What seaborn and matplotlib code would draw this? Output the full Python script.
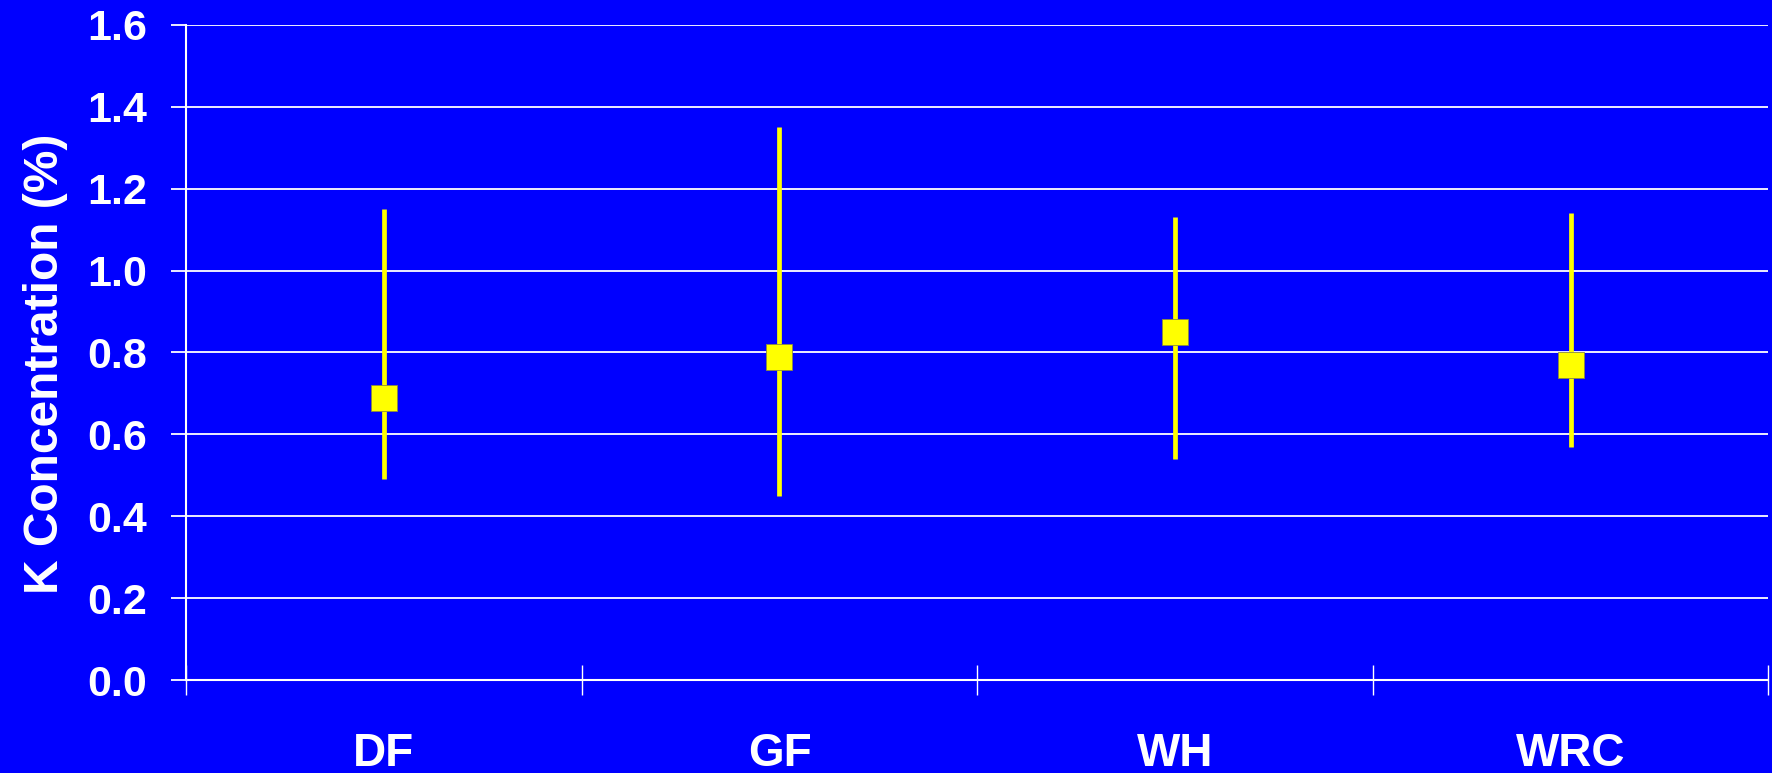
import matplotlib
matplotlib.use("Agg")
import matplotlib.pyplot as plt
from matplotlib.ticker import FixedLocator
import seaborn as sns
import pandas as pd
import numpy as np

species = ["DF", "GF", "WH", "WRC"]
k_mean = [0.69, 0.79, 0.85, 0.77]
k_low = [0.49, 0.45, 0.54, 0.57]
k_high = [1.15, 1.35, 1.13, 1.14]
y_ticks = [0.0, 0.2, 0.4, 0.6, 0.8, 1.0, 1.2, 1.4, 1.6]

BLUE = "#0000FF"
YELLOW = "#FFFF00"
WHITE = "#FFFFFF"

sns.set_theme(style="white")
plt.rcParams["font.family"] = ["Liberation Sans", "DejaVu Sans"]
plt.rcParams["font.weight"] = "bold"

df = pd.DataFrame({"species": species, "mean": k_mean, "low": k_low, "high": k_high})

fig = plt.figure(figsize=(17.72, 7.73), dpi=100, facecolor=BLUE)
ax = fig.add_axes([0.105, 0.12, 0.893, 0.848])
ax.set_facecolor(BLUE)

# error bars
xpos = np.arange(len(species))
ax.vlines(xpos, df["low"], df["high"], color=YELLOW, linewidth=3.4, zorder=3)

sns.scatterplot(data=df, x="species", y="mean", marker="s", s=330, color=YELLOW,
                edgecolor="#8a8a40", linewidth=0.6, ax=ax, zorder=4, legend=False)

ax.set_xlim(-0.5, len(species) - 0.5)
ax.set_ylim(0, 1.6)
ax.set_yticks(y_ticks)
ax.set_yticklabels([f"{v:.1f}" for v in y_ticks])
ax.grid(axis="y", color=WHITE, linewidth=1.3)
ax.set_axisbelow(True)

ax.set_xticks(xpos)
ax.set_xticklabels(species)
ax.xaxis.set_minor_locator(FixedLocator(np.arange(len(species) + 1) - 0.5))
ax.tick_params(axis="x", which="major", length=0, pad=37, labelsize=33, labelcolor=WHITE)
ax.tick_params(axis="x", which="minor", direction="inout", length=22, width=1, color=WHITE, bottom=True)
ax.tick_params(axis="y", which="major", direction="out", length=11, width=1.3, color=WHITE,
               pad=17, labelsize=31, labelcolor=WHITE, left=True)

for s in ["top", "right"]:
    ax.spines[s].set_visible(False)
for s in ["left", "bottom"]:
    ax.spines[s].set_color(WHITE)
    ax.spines[s].set_linewidth(1.5)

ax.set_xlabel("")
ax.set_ylabel("K Concentration (%)", fontsize=34.5, color=WHITE, fontweight="bold",
              labelpad=14, y=0.483)

fig.savefig("out.png", dpi=100, facecolor=BLUE)
